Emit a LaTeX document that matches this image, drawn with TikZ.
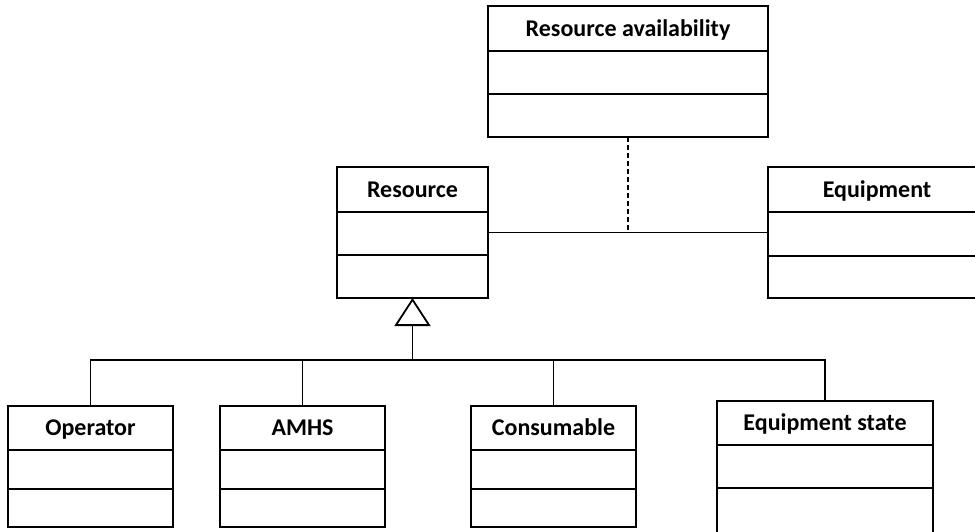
\documentclass[tikz,border=0pt]{standalone}
\usepackage{fontspec}
\setmainfont{Carlito}
\usetikzlibrary{arrows.meta}

% class box: name, left, right, top, first divider, second divider, bottom, title
\newcommand\classbox[8]{%
  \node[classframe, minimum width={#3-#2}, minimum height={#7-#4}] (#1) at ({(#2+#3)/2},{(#4+#7)/2}) {};
  \node[classtitle] (#1-title) at ({(#2+#3)/2},{(#4+#5)/2}) {#8};
  \draw[divider] (#2,#5) -- (#3,#5);
  \draw[divider] (#2,#6) -- (#3,#6);
}

\begin{document}
\begin{tikzpicture}[x=1pt, y=-1pt,
  classframe/.style={draw=black, line width=1.8pt, inner sep=0pt, outer sep=0pt, fill=white},
  classtitle/.style={font=\fontsize{24}{28}\selectfont\bfseries, inner sep=0pt, text height=15pt, text depth=0pt},
  divider/.style={line width=1.8pt},
  link/.style={line width=1.1pt},
  dep/.style={line width=1.1pt, dash pattern=on 5pt off 3pt},
  gen/.style={line width=1.8pt, -{Triangle[open, length=28pt, width=36pt]}}]

\useasboundingbox (0,0) rectangle (975,531);

\classbox{ra}{488}{768}{6}{51}{94}{137}{Resource availability}
\classbox{res}{337}{488}{167}{212}{255}{298}{Resource}
\classbox{eq}{768}{986}{167}{212}{256}{298}{Equipment}
\classbox{op}{8}{173}{406}{450}{489}{527}{Operator}
\classbox{amhs}{220}{385}{406}{450}{489}{527}{AMHS}
\classbox{cons}{471}{636}{406}{450}{489}{527}{Consumable}
\classbox{eqs}{717}{933}{401}{445}{488}{533}{Equipment state}

% association Resource -- Equipment with its association class
\draw[link] (res.east) -- (eq.west);
\coordinate (assoc) at (628,232.5);
\draw[dep] (ra.south) -- (assoc);

% generalization tree
\coordinate (bus) at (412.5,360);
\draw[link] (op.north) -- (op.north |- bus) -- (eqs.north |- bus) -- (eqs.north);
\draw[link] (amhs.north) -- (amhs.north |- bus);
\draw[link] (cons.north) -- (cons.north |- bus);
\draw[gen] (bus) -- (res.south);

\end{tikzpicture}
\end{document}
